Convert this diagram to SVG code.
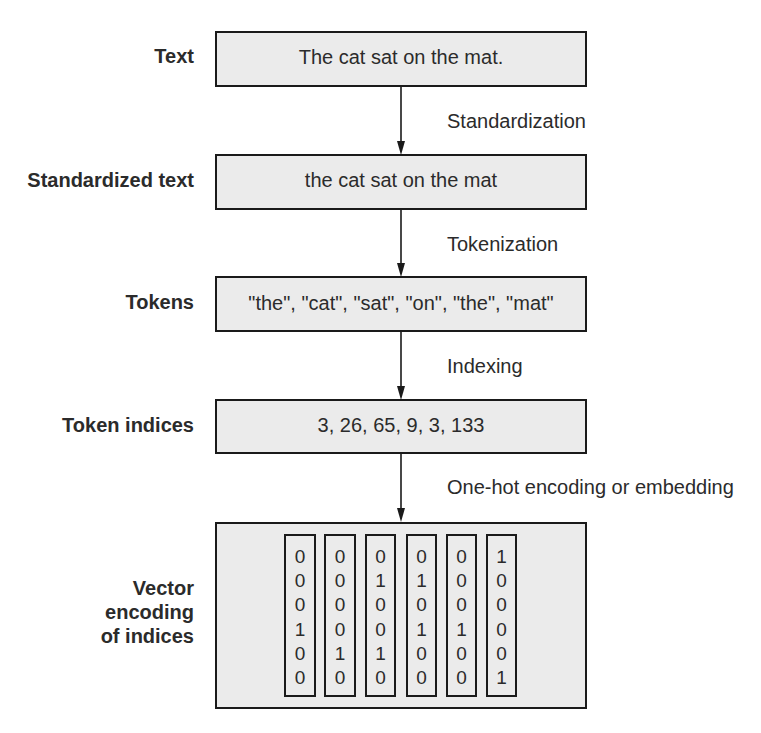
<svg xmlns="http://www.w3.org/2000/svg" width="761" height="733" viewBox="0 0 761 733">
<style>
.box{fill:#ebebeb;stroke:#1a1a1a;stroke-width:2}
.col{fill:none;stroke:#1a1a1a;stroke-width:2}
.t{font-family:"Liberation Sans",Arial,sans-serif;font-size:20px;fill:#2b2b2b}
.c{text-anchor:middle}
.lab{font-family:"Liberation Sans",Arial,sans-serif;font-size:20px;font-weight:bold;fill:#2b2b2b;text-anchor:end}
.d{font-family:"Liberation Sans",Arial,sans-serif;font-size:19px;fill:#2b2b2b;text-anchor:middle}
.conn{stroke:#1a1a1a;stroke-width:1.6;fill:none}
.head{fill:#1a1a1a}
</style>
<rect width="761" height="733" fill="#ffffff"/>
<g id="node-text">
<rect class="box" x="216" y="32" width="370" height="54"/>
<text class="t c" x="401" y="64">The cat sat on the mat.</text>
<text class="lab" x="194" y="63">Text</text>
</g>
<g id="node-standardized">
<rect class="box" x="216" y="155" width="370" height="54"/>
<text class="t c" x="401" y="187">the cat sat on the mat</text>
<text class="lab" x="194" y="187">Standardized text</text>
</g>
<g id="node-tokens">
<rect class="box" x="216" y="277" width="370" height="54"/>
<text class="t c" x="401" y="310">"the", "cat", "sat", "on", "the", "mat"</text>
<text class="lab" x="194" y="309">Tokens</text>
</g>
<g id="node-indices">
<rect class="box" x="216" y="400" width="370" height="53"/>
<text class="t c" x="401" y="432">3, 26, 65, 9, 3, 133</text>
<text class="lab" x="194" y="432">Token indices</text>
</g>
<g id="node-vectors">
<rect class="box" x="216" y="523" width="370" height="185"/>
<text class="lab" x="194" y="595">Vector</text>
<text class="lab" x="194" y="619">encoding</text>
<text class="lab" x="194" y="643">of indices</text>
<rect class="col" x="285" y="535" width="30" height="161"/>
<rect class="col" x="325" y="535" width="30" height="161"/>
<rect class="col" x="366" y="535" width="29" height="161"/>
<rect class="col" x="407" y="535" width="29" height="161"/>
<rect class="col" x="447" y="535" width="29" height="161"/>
<rect class="col" x="487" y="535" width="29" height="161"/>
<text class="d" x="300" y="563">0</text><text class="d" x="300" y="587">0</text><text class="d" x="300" y="611">0</text><text class="d" x="300" y="636">1</text><text class="d" x="300" y="660">0</text><text class="d" x="300" y="684">0</text>
<text class="d" x="340" y="563">0</text><text class="d" x="340" y="587">0</text><text class="d" x="340" y="611">0</text><text class="d" x="340" y="636">0</text><text class="d" x="340" y="660">1</text><text class="d" x="340" y="684">0</text>
<text class="d" x="380.5" y="563">0</text><text class="d" x="380.5" y="587">1</text><text class="d" x="380.5" y="611">0</text><text class="d" x="380.5" y="636">0</text><text class="d" x="380.5" y="660">1</text><text class="d" x="380.5" y="684">0</text>
<text class="d" x="421.5" y="563">0</text><text class="d" x="421.5" y="587">1</text><text class="d" x="421.5" y="611">0</text><text class="d" x="421.5" y="636">1</text><text class="d" x="421.5" y="660">0</text><text class="d" x="421.5" y="684">0</text>
<text class="d" x="461.5" y="563">0</text><text class="d" x="461.5" y="587">0</text><text class="d" x="461.5" y="611">0</text><text class="d" x="461.5" y="636">1</text><text class="d" x="461.5" y="660">0</text><text class="d" x="461.5" y="684">0</text>
<text class="d" x="501.5" y="563">1</text><text class="d" x="501.5" y="587">0</text><text class="d" x="501.5" y="611">0</text><text class="d" x="501.5" y="636">0</text><text class="d" x="501.5" y="660">0</text><text class="d" x="501.5" y="684">1</text>
</g>
<g id="connectors">
<line class="conn" x1="401" y1="87" x2="401" y2="142"/>
<path class="head" d="M397,141 L405,141 L401,155 Z"/>
<line class="conn" x1="401" y1="210" x2="401" y2="264"/>
<path class="head" d="M397,263 L405,263 L401,277 Z"/>
<line class="conn" x1="401" y1="332" x2="401" y2="387"/>
<path class="head" d="M397,386 L405,386 L401,400 Z"/>
<line class="conn" x1="401" y1="454" x2="401" y2="509"/>
<path class="head" d="M397,508 L405,508 L401,522 Z"/>
<text class="t" x="447" y="128">Standardization</text>
<text class="t" x="447" y="251">Tokenization</text>
<text class="t" x="447" y="373">Indexing</text>
<text class="t" x="447" y="494">One-hot encoding or embedding</text>
</g>
</svg>
